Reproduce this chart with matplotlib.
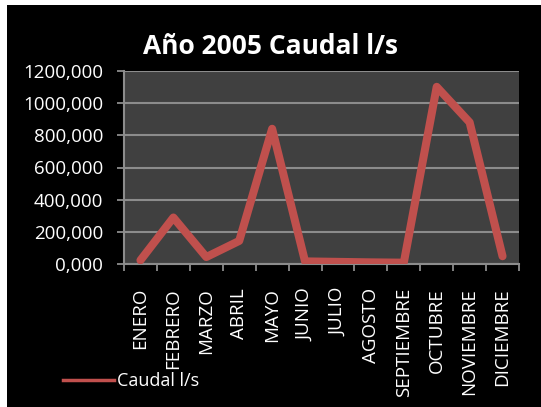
import matplotlib
matplotlib.use("Agg")
import matplotlib.pyplot as plt
from matplotlib.lines import Line2D
from matplotlib.patches import Rectangle
from matplotlib.ticker import FuncFormatter, FixedLocator

plt.rcParams['font.family'] = ['Open Sans', 'DejaVu Sans']

# --- data ---
meses = ["ENERO", "FEBRERO", "MARZO", "ABRIL", "MAYO", "JUNIO", "JULIO",
         "AGOSTO", "SEPTIEMBRE", "OCTUBRE", "NOVIEMBRE", "DICIEMBRE"]
caudal = [25, 290, 45, 145, 840, 18, 15, 12, 10, 1100, 880, 50]
y_ticks = [0, 200, 400, 600, 800, 1000, 1200]

line_color = "#c0504d"
grid_color = "#8c8c8c"

fig = plt.figure(figsize=(5.41, 4.07), dpi=100, facecolor="white")
# black chart area (white strip left/top like the original screenshot)
fig.patches.append(Rectangle((7 / 541, 0), 1, 1 - 5 / 407, transform=fig.transFigure,
                             facecolor="black", edgecolor="none", zorder=-10))

ax = fig.add_axes([124 / 541, 1 - 264.3 / 407, (519 - 124) / 541, (264.3 - 70.7) / 407])
ax.set_facecolor("#404040")

x = list(range(len(meses)))
ax.plot(x, caudal, color=line_color, lw=5.8, solid_joinstyle="round",
        solid_capstyle="round", zorder=3)

ax.set_xlim(-0.5, len(meses) - 0.5)
ax.set_ylim(0, 1200)
ax.set_yticks(y_ticks)
ax.yaxis.set_major_formatter(FuncFormatter(lambda v, p: f"{v:.3f}".replace(".", ",")))
ax.grid(axis="y", color=grid_color, lw=1.5, zorder=1)

ax.set_xticks(x)
ax.set_xticklabels(meses, rotation=90, va="top", ha="center")
ax.xaxis.set_minor_locator(FixedLocator([i - 0.5 for i in range(len(meses) + 1)]))
ax.tick_params(axis="x", which="major", length=0, pad=17, colors="white", labelsize=13.5)
ax.tick_params(axis="x", which="minor", length=5, width=1.3, color=grid_color)
ax.tick_params(axis="y", length=5, width=1.3, color=grid_color, pad=10,
               labelcolor="white", labelsize=13.5)

for s in ["top", "right"]:
    ax.spines[s].set_visible(False)
for s in ["left", "bottom"]:
    ax.spines[s].set_color(grid_color)
    ax.spines[s].set_linewidth(1.5)

fig.text(0.5, 1 - 46 / 407, "Año 2005 Caudal l/s", ha="center", va="center",
         color="white", fontsize=19, fontweight="bold")

handle = Line2D([], [], color=line_color, lw=2.5)
fig.legend([handle], ["Caudal l/s"], loc="center left",
           bbox_to_anchor=(47 / 541, 1 - 381 / 407), frameon=False,
           handlelength=2.8, handletextpad=0.2, labelcolor="white", fontsize=13)

fig.savefig("out.png", dpi=100, facecolor=fig.get_facecolor())
